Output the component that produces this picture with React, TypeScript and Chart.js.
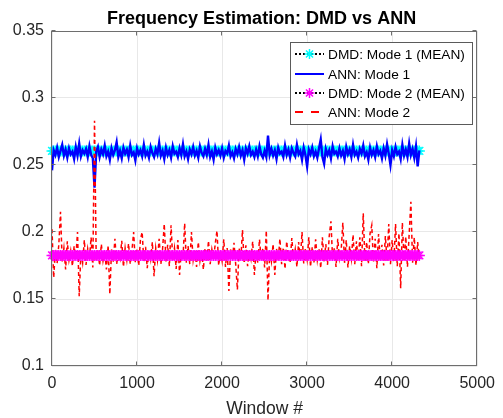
import React, { useEffect, useRef } from "react";
import { Chart, registerables } from "chart.js";

Chart.register(...registerables);

const TITLE = "Frequency Estimation: DMD vs ANN";
const X_LABEL = "Window #";
const LEGEND_LABELS = ["DMD: Mode 1 (MEAN)", "ANN: Mode 1", "DMD: Mode 2 (MEAN)", "ANN: Mode 2"];
const WINDOW_STEP = 20;
const X_MIN = 0;
const X_MAX = 5000;
const X_STEP = 1000;
const Y_MIN = 0.1;
const Y_MAX = 0.35;
const Y_STEP = 0.05;

const DMD_MODE1_MEAN = 0.2605;
const DMD_MODE2_MEAN = 0.1825;

const ANN_MODE1 = [
  0.2460, 0.2610, 0.2575, 0.2630, 0.2560, 0.2605, 0.2650, 0.2570, 0.2615, 0.2555,
  0.2625, 0.2580, 0.2600, 0.2545, 0.2635, 0.2570, 0.2660, 0.2565, 0.2610, 0.2585,
  0.2620, 0.2560, 0.2640, 0.2575, 0.2550, 0.2330, 0.2600, 0.2635, 0.2560, 0.2615,
  0.2580, 0.2645, 0.2565, 0.2600, 0.2540, 0.2625, 0.2575, 0.2610, 0.2670, 0.2560,
  0.2605, 0.2550, 0.2630, 0.2585, 0.2615, 0.2560, 0.2645, 0.2575, 0.2595, 0.2535,
  0.2625, 0.2580, 0.2610, 0.2565, 0.2650, 0.2570, 0.2600, 0.2555, 0.2635, 0.2590,
  0.2560, 0.2620, 0.2580, 0.2665, 0.2570, 0.2605, 0.2545, 0.2630, 0.2575, 0.2610,
  0.2555, 0.2640, 0.2585, 0.2600, 0.2560, 0.2625, 0.2575, 0.2655, 0.2565, 0.2600,
  0.2545, 0.2615, 0.2580, 0.2635, 0.2570, 0.2605, 0.2555, 0.2640, 0.2590, 0.2565,
  0.2620, 0.2575, 0.2650, 0.2560, 0.2600, 0.2540, 0.2630, 0.2580, 0.2610, 0.2570,
  0.2625, 0.2555, 0.2605, 0.2585, 0.2645, 0.2565, 0.2595, 0.2550, 0.2620, 0.2580,
  0.2635, 0.2570, 0.2610, 0.2540, 0.2625, 0.2585, 0.2640, 0.2575, 0.2600, 0.2560,
  0.2615, 0.2565, 0.2640, 0.2580, 0.2555, 0.2605, 0.2560, 0.2720, 0.2575, 0.2620,
  0.2570, 0.2610, 0.2545, 0.2630, 0.2585, 0.2600, 0.2560, 0.2645, 0.2575, 0.2615,
  0.2555, 0.2625, 0.2590, 0.2565, 0.2650, 0.2580, 0.2605, 0.2540, 0.2630, 0.2575,
  0.2490, 0.2615, 0.2580, 0.2630, 0.2565, 0.2600, 0.2555, 0.2625, 0.2690, 0.2560,
  0.2510, 0.2620, 0.2575, 0.2610, 0.2550, 0.2640, 0.2585, 0.2600, 0.2565, 0.2625,
  0.2570, 0.2605, 0.2545, 0.2635, 0.2580, 0.2615, 0.2560, 0.2650, 0.2575, 0.2600,
  0.2555, 0.2620, 0.2585, 0.2645, 0.2565, 0.2595, 0.2540, 0.2630, 0.2575, 0.2610,
  0.2560, 0.2640, 0.2580, 0.2605, 0.2550, 0.2625, 0.2570, 0.2655, 0.2585, 0.2500,
  0.2610, 0.2565, 0.2635, 0.2580, 0.2600, 0.2545, 0.2650, 0.2570, 0.2615, 0.2560,
  0.2660, 0.2575, 0.2620, 0.2555, 0.2640, 0.2490, 0.2610,
];

const ANN_MODE2 = [
  0.2020, 0.1660, 0.1870, 0.1765, 0.1905, 0.2150, 0.1780, 0.1880, 0.1720, 0.1930,
  0.1790, 0.1860, 0.1745, 0.1895, 0.1800, 0.2000, 0.1520, 0.1850, 0.1770, 0.1940,
  0.1755, 0.1875, 0.1800, 0.1960, 0.1735, 0.2830, 0.1790, 0.1865, 0.1750, 0.1910,
  0.1785, 0.1855, 0.1720, 0.1900, 0.1536, 0.1870, 0.1775, 0.1950, 0.1760, 0.1845,
  0.1800, 0.1935, 0.1740, 0.1880, 0.1790, 0.1915, 0.1760, 0.1860, 0.2000, 0.1770,
  0.1870, 0.1750, 0.1945, 0.2000, 0.1780, 0.1890, 0.1730, 0.1865, 0.1795, 0.1925,
  0.1670, 0.1880, 0.1790, 0.1950, 0.1760, 0.1870, 0.2060, 0.1780, 0.1905, 0.1745,
  0.2050, 0.1790, 0.1880, 0.1725, 0.1940, 0.1680, 0.1860, 0.1800, 0.2065, 0.1770,
  0.1895, 0.1760, 0.2000, 0.1790, 0.1870, 0.1740, 0.1925, 0.1785, 0.1860, 0.1720,
  0.1880, 0.1775, 0.1935, 0.1760, 0.1870, 0.1800, 0.1915, 0.2010, 0.1750, 0.1865,
  0.1785, 0.1945, 0.1740, 0.1880, 0.1560, 0.1870, 0.1790, 0.1920, 0.1760, 0.1570,
  0.1880, 0.1790, 0.2015, 0.1765, 0.1900, 0.1745, 0.1870, 0.1800, 0.1930, 0.1680,
  0.1860, 0.1770, 0.1945, 0.1790, 0.1880, 0.1735, 0.2010, 0.1490, 0.1860, 0.1780,
  0.1910, 0.1680, 0.1875, 0.1790, 0.1950, 0.1760, 0.1885, 0.1725, 0.1930, 0.1800,
  0.1770, 0.1955, 0.1790, 0.1870, 0.1740, 0.1925, 0.1785, 0.2000, 0.1765, 0.1880,
  0.1795, 0.1960, 0.1740, 0.1890, 0.1770, 0.1945, 0.1790, 0.1875, 0.1730, 0.1960,
  0.1780, 0.1910, 0.1755, 0.1970, 0.2080, 0.1790, 0.1885, 0.1740, 0.1950, 0.1800,
  0.1860, 0.2070, 0.1770, 0.1940, 0.1735, 0.1895, 0.1800, 0.1980, 0.1760, 0.1930,
  0.1790, 0.1960, 0.1745, 0.2140, 0.1780, 0.1925, 0.1760, 0.1990, 0.2050, 0.1770,
  0.1950, 0.1730, 0.1985, 0.1790, 0.1905, 0.1750, 0.1970, 0.1785, 0.2060, 0.1760,
  0.1940, 0.1780, 0.2060, 0.1745, 0.1990, 0.1580, 0.2070, 0.1790, 0.1965, 0.1740,
  0.1985, 0.2225, 0.1770, 0.1960, 0.1750, 0.1925, 0.1790,
];

const WINDOWS = ANN_MODE1.map((_, i) => i * WINDOW_STEP);

const FONT = "'Liberation Sans', Arial, Helvetica, sans-serif";
const CYAN = "#00ffff";
const BLUE = "#0000ff";
const MAGENTA = "#ff00ff";
const RED = "#ff0000";

function drawStar(ctx: CanvasRenderingContext2D, x: number, y: number, r: number, color: string) {
  ctx.save();
  ctx.strokeStyle = color;
  ctx.lineWidth = 1.5;
  ctx.beginPath();
  ctx.moveTo(x - r, y);
  ctx.lineTo(x + r, y);
  ctx.moveTo(x, y - r);
  ctx.lineTo(x, y + r);
  const d = r * 0.7071;
  ctx.moveTo(x - d, y - d);
  ctx.lineTo(x + d, y + d);
  ctx.moveTo(x - d, y + d);
  ctx.lineTo(x + d, y - d);
  ctx.stroke();
  ctx.restore();
}

const decorPlugin = {
  id: "matlabDecor",
  afterDraw(chart: any) {
    const ctx: CanvasRenderingContext2D = chart.ctx;
    const { left, right, top, bottom } = chart.chartArea;
    const xs = chart.scales.x;
    const ys = chart.scales.y;
    ctx.save();
    const L = Math.round(left) - 0.5;
    const R = Math.round(right) - 0.5;
    const T = Math.round(top) + 0.5;
    const B = Math.round(bottom) - 0.5;
    ctx.strokeStyle = "#6e6e6e";
    ctx.lineWidth = 1;
    ctx.strokeRect(L, T, R - L, B - T);
    ctx.beginPath();
    xs.ticks.forEach((t: any) => {
      const px = Math.round(xs.getPixelForValue(t.value)) - 0.5;
      ctx.moveTo(px, B);
      ctx.lineTo(px, B - 4);
      ctx.moveTo(px, T);
      ctx.lineTo(px, T + 4);
    });
    ys.ticks.forEach((t: any) => {
      const py = Math.round(ys.getPixelForValue(t.value)) - 0.5;
      ctx.moveTo(L, py);
      ctx.lineTo(L + 4, py);
      ctx.moveTo(R, py);
      ctx.lineTo(R - 4, py);
    });
    ctx.stroke();

    const cx = (left + right) / 2;
    ctx.fillStyle = "#000";
    ctx.textAlign = "center";
    ctx.textBaseline = "alphabetic";
    ctx.font = `bold 18px ${FONT}`;
    ctx.fillText(TITLE, cx - 3, 24);
    ctx.fillStyle = "#262626";
    ctx.font = `17.5px ${FONT}`;
    ctx.fillText(X_LABEL, cx, 414);

    const bx = 290.5, by = 42.5, bw = 182, bh = 82;
    ctx.fillStyle = "#fff";
    ctx.fillRect(bx, by, bw, bh);
    ctx.strokeStyle = "#5a5a5a";
    ctx.strokeRect(bx, by, bw, bh);
    const rows = [54, 74, 93, 112];
    const x0 = 295, x1 = 324;
    [0, 2].forEach((i) => {
      ctx.save();
      ctx.strokeStyle = "#000";
      ctx.lineWidth = 2;
      ctx.setLineDash([2, 2]);
      ctx.beginPath();
      ctx.moveTo(x0, rows[i]);
      ctx.lineTo(x1, rows[i]);
      ctx.stroke();
      ctx.restore();
      drawStar(ctx, (x0 + x1) / 2, rows[i], 5, i === 0 ? CYAN : MAGENTA);
    });
    ctx.save();
    ctx.strokeStyle = BLUE;
    ctx.lineWidth = 2;
    ctx.beginPath();
    ctx.moveTo(x0, rows[1]);
    ctx.lineTo(x1, rows[1]);
    ctx.stroke();
    ctx.strokeStyle = RED;
    ctx.setLineDash([8, 8]);
    ctx.beginPath();
    ctx.moveTo(x0, rows[3]);
    ctx.lineTo(x1 - 3, rows[3]);
    ctx.stroke();
    ctx.restore();
    ctx.fillStyle = "#000";
    ctx.textAlign = "left";
    ctx.textBaseline = "middle";
    ctx.font = `13.7px ${FONT}`;
    LEGEND_LABELS.forEach((lab, i) => ctx.fillText(lab, 328, rows[i] + 1));
    ctx.restore();
  },
};

export default function App() {
  const ref = useRef<HTMLCanvasElement | null>(null);
  useEffect(() => {
    if (!ref.current) return;
    const pts = (ys: number[]) => WINDOWS.map((x, i) => ({ x, y: ys[i] }));
    const dmd1 = WINDOWS.map((x) => ({ x, y: DMD_MODE1_MEAN }));
    const dmd2 = WINDOWS.map((x) => ({ x, y: DMD_MODE2_MEAN }));
    const chart = new Chart(ref.current, {
      type: "line",
      data: {
        datasets: [
          {
            label: LEGEND_LABELS[0],
            data: dmd1,
            borderColor: "#000",
            borderWidth: 1,
            borderDash: [1, 2],
            pointStyle: "star",
            pointRadius: 5.5,
            pointBorderColor: CYAN,
            pointBackgroundColor: CYAN,
            pointBorderWidth: 1.4,
            clip: false,
            order: 3,
          },
          {
            label: LEGEND_LABELS[1],
            data: pts(ANN_MODE1),
            borderColor: BLUE,
            borderWidth: 2.4,
            pointRadius: 0,
            order: 2,
          },
          {
            label: LEGEND_LABELS[2],
            data: dmd2,
            borderColor: "#000",
            borderWidth: 1,
            borderDash: [1, 2],
            pointStyle: "star",
            pointRadius: 5.5,
            pointBorderColor: MAGENTA,
            pointBackgroundColor: MAGENTA,
            pointBorderWidth: 1.4,
            clip: false,
            order: 0,
          },
          {
            label: LEGEND_LABELS[3],
            data: pts(ANN_MODE2),
            borderColor: RED,
            borderWidth: 1.5,
            borderDash: [4, 3],
            pointRadius: 0,
            order: 1,
          },
        ] as any,
      },
      options: {
        responsive: false,
        animation: false,
        devicePixelRatio: 1,
        layout: { padding: { top: 31, right: 17, bottom: 0, left: 0 } },
        plugins: {
          legend: { display: false },
          title: { display: false },
          tooltip: { enabled: false },
        },
        scales: {
          x: {
            type: "linear",
            min: X_MIN,
            max: X_MAX,
            ticks: {
              stepSize: X_STEP,
              color: "#262626",
              font: { family: FONT, size: 16 },
              padding: 8,
              maxRotation: 0,
              callback: (v: any) => String(v),
            },
            grid: { color: "#e8e8e8", drawTicks: false },
            border: { display: false },
            afterFit: (s: any) => {
              s.height = 52;
            },
          },
          y: {
            type: "linear",
            min: Y_MIN,
            max: Y_MAX,
            ticks: {
              stepSize: Y_STEP,
              color: "#262626",
              font: { family: FONT, size: 16 },
              padding: 8,
              callback: (v: any) => String(Number(Number(v).toFixed(2))),
            },
            grid: { color: "#e8e8e8", drawTicks: false },
            border: { display: false },
            afterFit: (s: any) => {
              s.width = 52;
            },
          },
        },
      },
      plugins: [decorPlugin],
    });
    return () => chart.destroy();
  }, []);
  return (
    <div style={{ position: "fixed", left: 0, top: 0, width: 503, height: 418, background: "#fff" }}>
      <canvas ref={ref} width={503} height={418} style={{ display: "block" }} />
    </div>
  );
}
